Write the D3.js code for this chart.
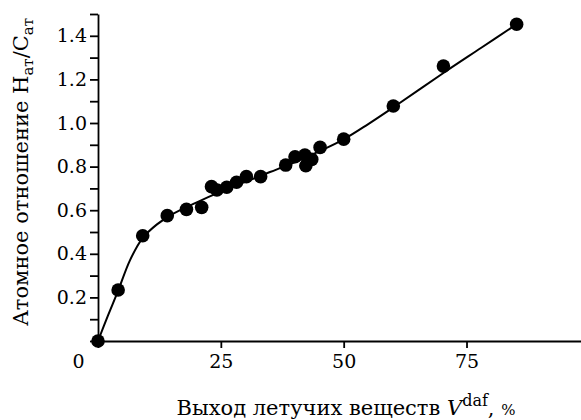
<!DOCTYPE html>
<html>
<head>
<meta charset="utf-8">
<script src="https://cdn.jsdelivr.net/npm/d3@7"></script>
<style>
    body { margin: 0; background: #fff; }
    svg { display: block; font-family: "DejaVu Serif", serif; }
</style>
</head>
<body>
<div id="chart"></div>
<script>
// measured points: volatile matter yield V (%) and atomic H/C ratio
const volatileYield = [0, 4.1, 9.1, 14.1, 18.0, 21.1, 23.1, 24.2, 26.2, 28.2, 30.2, 33.1,
                       38.2, 40.1, 42.1, 42.3, 43.5, 45.2, 50.0, 60.1, 70.3, 85.2];
const hcRatio = [0, 0.234, 0.483, 0.575, 0.604, 0.613, 0.708, 0.693, 0.705, 0.728, 0.754, 0.754,
                 0.807, 0.845, 0.853, 0.804, 0.833, 0.888, 0.926, 1.078, 1.261, 1.453];

// smooth trend curve drawn through the data
const curveX = [0, 2, 4, 6.5, 9, 12, 15, 20, 25, 30, 35, 40, 45, 50, 55, 60, 70, 78, 85.2];
const curveY = [0, 0.115, 0.225, 0.37, 0.47, 0.535, 0.58, 0.635, 0.685, 0.73, 0.775, 0.82,
                0.87, 0.925, 0.995, 1.07, 1.225, 1.345, 1.453];

const xTicks = [0, 25, 50, 75];
const yTicks = [0, 0.1, 0.2, 0.3, 0.4, 0.5, 0.6, 0.7, 0.8, 0.9, 1.0, 1.1, 1.2, 1.3, 1.4, 1.5];
const yLabelled = [0.2, 0.4, 0.6, 0.8, 1.0, 1.2, 1.4];

const width = 581, height = 420;

const svg = d3.select("#chart").append("svg")
    .attr("width", width)
    .attr("height", height);

const x = d3.scaleLinear().domain([0, 98.3]).range([98, 581]);
const y = d3.scaleLinear().domain([0, 1.5]).range([341, 14]);

// x axis
const xAxis = svg.append("g")
    .attr("transform", "translate(0," + y(0) + ")")
    .call(d3.axisBottom(x)
        .tickValues(xTicks)
        .tickSize(7)
        .tickSizeOuter(0)
        .tickPadding(7)
        .tickFormat(d3.format("d")));

xAxis.selectAll("text")
    .attr("dx", d => d === 0 ? -20 : 0);

// y axis
const yAxis = svg.append("g")
    .attr("transform", "translate(" + x(0) + ",0)")
    .call(d3.axisLeft(y)
        .tickValues(yTicks)
        .tickSize(8)
        .tickSizeOuter(0)
        .tickPadding(3)
        .tickFormat(d => yLabelled.some(v => Math.abs(v - d) < 1e-9) ? d3.format(".1f")(d) : ""));

svg.selectAll(".domain, .tick line")
    .attr("stroke", "#000")
    .attr("stroke-width", 1.8);

svg.selectAll(".tick text")
    .attr("fill", "#000")
    .style("font-family", "DejaVu Serif, serif")
    .style("font-size", "19px");

// trend curve
const curvePts = curveX.map((v, i) => [v, curveY[i]]);
const line = d3.line()
    .x(d => x(d[0]))
    .y(d => y(d[1]))
    .curve(d3.curveCatmullRom.alpha(0.5));

svg.append("path")
    .datum(curvePts)
    .attr("fill", "none")
    .attr("stroke", "#000")
    .attr("stroke-width", 2)
    .attr("d", line);

// data points
svg.selectAll(".dot")
    .data(volatileYield.map((v, i) => [v, hcRatio[i]]))
    .enter().append("circle")
    .attr("class", "dot")
    .attr("cx", d => x(d[0]))
    .attr("cy", d => y(d[1]))
    .attr("r", 6.8)
    .attr("fill", "#000");

// x axis title
const xt = svg.append("text")
    .attr("x", 346)
    .attr("y", 415)
    .attr("text-anchor", "middle")
    .style("font-size", "21px");
xt.append("tspan").text("Выход летучих веществ ");
xt.append("tspan").style("font-style", "italic").text("V");
xt.append("tspan").attr("dy", -9).style("font-size", "16px").text("daf");
xt.append("tspan").attr("dy", 9).text(", ");
xt.append("tspan").style("font-size", "15px").text("%");

// y axis title
const yt = svg.append("text")
    .attr("transform", "translate(28,172) rotate(-90)")
    .attr("text-anchor", "middle")
    .style("font-size", "21px");
yt.append("tspan").text("Атомное отношение H");
yt.append("tspan").attr("dy", 5).style("font-size", "15px").text("ат");
yt.append("tspan").attr("dy", -5).text("/C");
yt.append("tspan").attr("dy", 5).style("font-size", "15px").text("ат");
</script>
</body>
</html>
